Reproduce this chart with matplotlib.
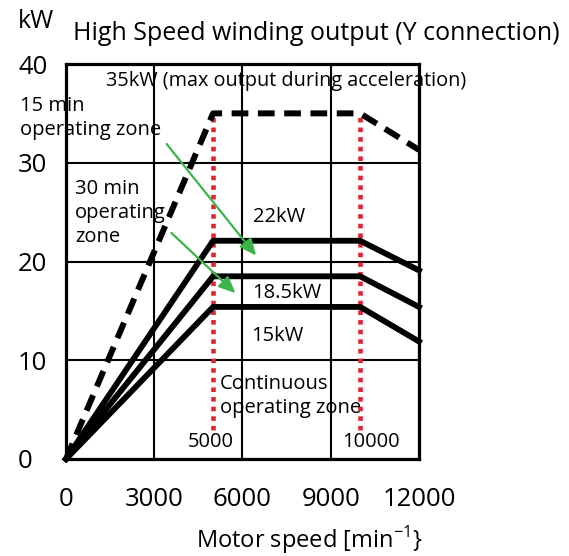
import numpy as np
import matplotlib.pyplot as plt

plt.rcParams['font.family'] = ['Open Sans', 'DejaVu Sans']

# speed points [min-1] and output [kW]
speed = [0, 5000, 10000, 12000]
out_max = [0, 35, 35, 31.3]      # 35kW, max output during acceleration
out_22 = [0, 22.1, 22.1, 19.1]
out_185 = [0, 18.5, 18.5, 15.4]
out_15 = [0, 15.4, 15.4, 11.9]

xticks = [0, 3000, 6000, 9000, 12000]
yticks = [0, 10, 20, 30, 40]
marks = [5000, 10000]            # red dotted speed marks
mark_bottom = 2.9

fig = plt.figure(figsize=(5.69, 5.56), dpi=100)
ax = fig.add_axes([66/569, 1 - 459/556, 353/569, 395/556])

ax.set_xlim(0, 12000)
ax.set_ylim(0, 40)
ax.set_xticks(xticks)
ax.set_yticks(yticks)
ax.set_xticklabels([str(t) for t in xticks], fontsize=18.5)
ax.set_yticklabels([str(t) for t in yticks], fontsize=18.5, ha='left')
ax.tick_params(axis='both', length=0)
ax.tick_params(axis='x', pad=20)
ax.tick_params(axis='y', pad=34.5)
ax.grid(True, color='black', linewidth=1.5)
for s in ax.spines.values():
    s.set_linewidth(2.3)

for m in marks:
    ax.plot([m, m], [mark_bottom, 35], color='#e0262e', linewidth=3.3,
            linestyle=(0, (1, 1.1)), solid_capstyle='butt', zorder=3)

ax.plot(speed, out_max, color='black', linewidth=4.3, linestyle=(0, (2.8, 1.6)),
        solid_joinstyle='miter', zorder=4, clip_on=False)
for o in [out_22, out_185, out_15]:
    ax.plot(speed, o, color='black', linewidth=4.2, zorder=4, clip_on=False)

green = '#3cb44a'
ax.annotate('', xy=(6460, 20.6), xytext=(3422, 31.9),
            arrowprops=dict(arrowstyle='-|>,head_length=1.0,head_width=0.45',
                            color=green, linewidth=1.6, shrinkA=0, shrinkB=0), zorder=5)
ax.annotate('', xy=(5760, 16.8), xytext=(3580, 22.9),
            arrowprops=dict(arrowstyle='-|>,head_length=1.0,head_width=0.45',
                            color=green, linewidth=1.6, shrinkA=0, shrinkB=0), zorder=5)

fs = 14.5
ax.text(1353, 38.3, '35kW (max output during acceleration)', fontsize=14.3,
        ha='left', va='center', clip_on=False)
ax.text(-1564, 34.5, '15 min\noperating zone', fontsize=fs, ha='left', va='center',
        linespacing=1.25, clip_on=False)
ax.text(306, 24.9, '30 min\noperating\nzone', fontsize=fs, ha='left', va='center',
        linespacing=1.25)
ax.text(6340, 24.5, '22kW', fontsize=fs, ha='left', va='center')
ax.text(6340, 16.8, '18.5kW', fontsize=fs, ha='left', va='center')
ax.text(6290, 12.5, '15kW', fontsize=fs, ha='left', va='center')
ax.text(5234, 6.4, 'Continuous\noperating zone', fontsize=fs, ha='left', va='center',
        linespacing=1.25, zorder=6)
ax.text(4925, 1.7, '5000', fontsize=fs, ha='center', va='center')
ax.text(10370, 1.7, '10000', fontsize=fs, ha='center', va='center')

fig.text(18/569, 1 - 22/556, 'kW', fontsize=18, ha='left', va='center')
fig.text(73/569, 1 - 33/556, 'High Speed winding output (Y connection)', fontsize=18,
         ha='left', va='center')
fig.text(309/569, 1 - 540/556, 'Motor speed [min$^{\\mathregular{-1}}$}', fontsize=17,
         ha='center', va='center')

fig.savefig('out.png', dpi=100)
